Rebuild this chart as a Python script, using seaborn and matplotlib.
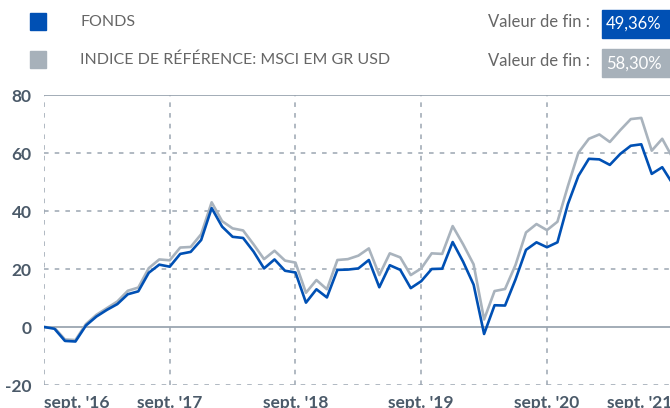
import numpy as np
import pandas as pd
import seaborn as sns
import matplotlib.pyplot as plt
from matplotlib.patches import Rectangle

# monthly cumulative performance (%), sept. 2016 -> sept. 2021
fonds = [0, -0.6, -4.8, -5.0, 0.5, 3.6, 5.9, 7.9, 11.3, 12.3, 18.7, 21.5,
         20.8, 25.2, 25.9, 30.0, 41.0, 34.6, 31.1, 30.7, 26.0, 20.2, 23.3, 19.4,
         18.8, 8.4, 13.0, 10.2, 19.7, 19.8, 20.2, 23.1, 13.7, 21.3, 19.7, 13.4,
         15.8, 20.0, 20.1, 29.3, 22.5, 14.6, -2.4, 7.5, 7.4, 16.4, 26.6, 29.2,
         27.5, 29.2, 42.4, 52.1, 58.0, 57.8, 55.9, 59.7, 62.5, 63.0, 52.8, 55.1,
         49.36]
indice = [0, -0.3, -4.3, -4.5, 1.0, 4.2, 6.5, 8.8, 12.5, 13.6, 20.3, 23.3,
          23.0, 27.4, 27.6, 32.0, 43.0, 36.5, 34.0, 33.3, 28.5, 23.4, 26.3, 22.9,
          22.2, 11.8, 16.2, 13.0, 23.1, 23.4, 24.6, 27.1, 17.9, 25.4, 24.0, 17.9,
          20.2, 25.4, 25.2, 34.8, 28.5, 21.6, 2.6, 12.4, 13.1, 21.4, 32.6, 35.5,
          33.4, 36.3, 48.6, 60.1, 64.9, 66.4, 63.8, 67.9, 71.7, 72.1, 60.8, 64.9,
          58.30]
tick_labels = ["sept. '16", "sept. '17", "sept. '18", "sept. '19", "sept. '20", "sept. '21"]
y_ticks = [-20, 0, 20, 40, 60, 80]

BLUE = '#0050b4'
GREY = '#a9b3bd'
GRID = '#9ba6b1'
TXT = '#4b5a69'
W, H = 670, 408

sns.set_style('white')
plt.rcParams['font.family'] = ['Lato', 'DejaVu Sans']

df = pd.DataFrame({'mois': np.arange(len(fonds)), 'fonds': fonds, 'indice': indice})

fig = plt.figure(figsize=(W / 100, H / 100), dpi=100)
# axes run a little past the right edge, the last point sits just off the image
ax = fig.add_axes([44 / W, (H - 385) / H, (672.7 - 44) / W, 290 / H])

sns.lineplot(data=df, x='mois', y='indice', color=GREY, lw=1.9, ax=ax, zorder=3)
sns.lineplot(data=df, x='mois', y='fonds', color=BLUE, lw=1.9, ax=ax, zorder=4)

ax.set_xlim(0, 60)
ax.set_ylim(-20, 80)
for s in ax.spines.values():
    s.set_visible(False)

for y in y_ticks:
    if y in (0, 80):
        ax.axhline(y, color=GRID, lw=1.3, zorder=1)
    else:
        ax.axhline(y, color=GRID, lw=1.1, ls=(0, (3, 4)), zorder=1)
for x in range(0, 61, 12):
    ax.axvline(x, color=GRID, lw=1.1, ls=(0, (3, 4)), zorder=1)

ax.set_xticks(range(0, 61, 12))
ax.set_xticklabels(tick_labels)
ax.set_yticks(y_ticks)
ax.set_yticklabels([str(v) for v in y_ticks])
ax.tick_params(axis='x', length=6, width=1, color=GRID, pad=1, labelsize=12.5, labelcolor=TXT)
ax.tick_params(axis='y', length=0, pad=9, labelsize=12.5, labelcolor=TXT)
for lab in ax.get_xticklabels() + ax.get_yticklabels():
    lab.set_fontweight('bold')
xl = ax.get_xticklabels()
xl[0].set_ha('left')
xl[-1].set_ha('right')
ax.set_xlabel('')
ax.set_ylabel('')


def fx(x):
    return x / W


def fy(y):
    return 1 - y / H


# legend and end values
fig.patches.append(Rectangle((fx(30), fy(30)), 16 / W, 17 / H, color=BLUE,
                             transform=fig.transFigure, figure=fig))
fig.patches.append(Rectangle((fx(30), fy(68)), 16 / W, 17 / H, color='#a7b1ba',
                             transform=fig.transFigure, figure=fig))
fig.text(fx(80), fy(22), 'FONDS', fontsize=11.5, color='#666666', va='center')
fig.text(fx(80), fy(60), 'INDICE DE RÉFÉRENCE: MSCI EM GR USD', fontsize=11.5,
         color='#666666', va='center')
fig.text(fx(590), fy(22), 'Valeur de fin :', fontsize=12, color='#666666',
         va='center', ha='right')
fig.text(fx(590), fy(61), 'Valeur de fin :', fontsize=12, color='#666666',
         va='center', ha='right')
fig.patches.append(Rectangle((fx(602), fy(38)), 70 / W, 28 / H, color=BLUE,
                             transform=fig.transFigure, figure=fig))
fig.patches.append(Rectangle((fx(602), fy(77)), 70 / W, 28 / H, color='#a7b1ba',
                             transform=fig.transFigure, figure=fig))
fig.text(fx(606), fy(24), '49,36%', fontsize=12, color='white', va='center')
fig.text(fx(606), fy(64), '58,30%', fontsize=12, color='white', va='center')

fig.savefig('out.png', dpi=100)
